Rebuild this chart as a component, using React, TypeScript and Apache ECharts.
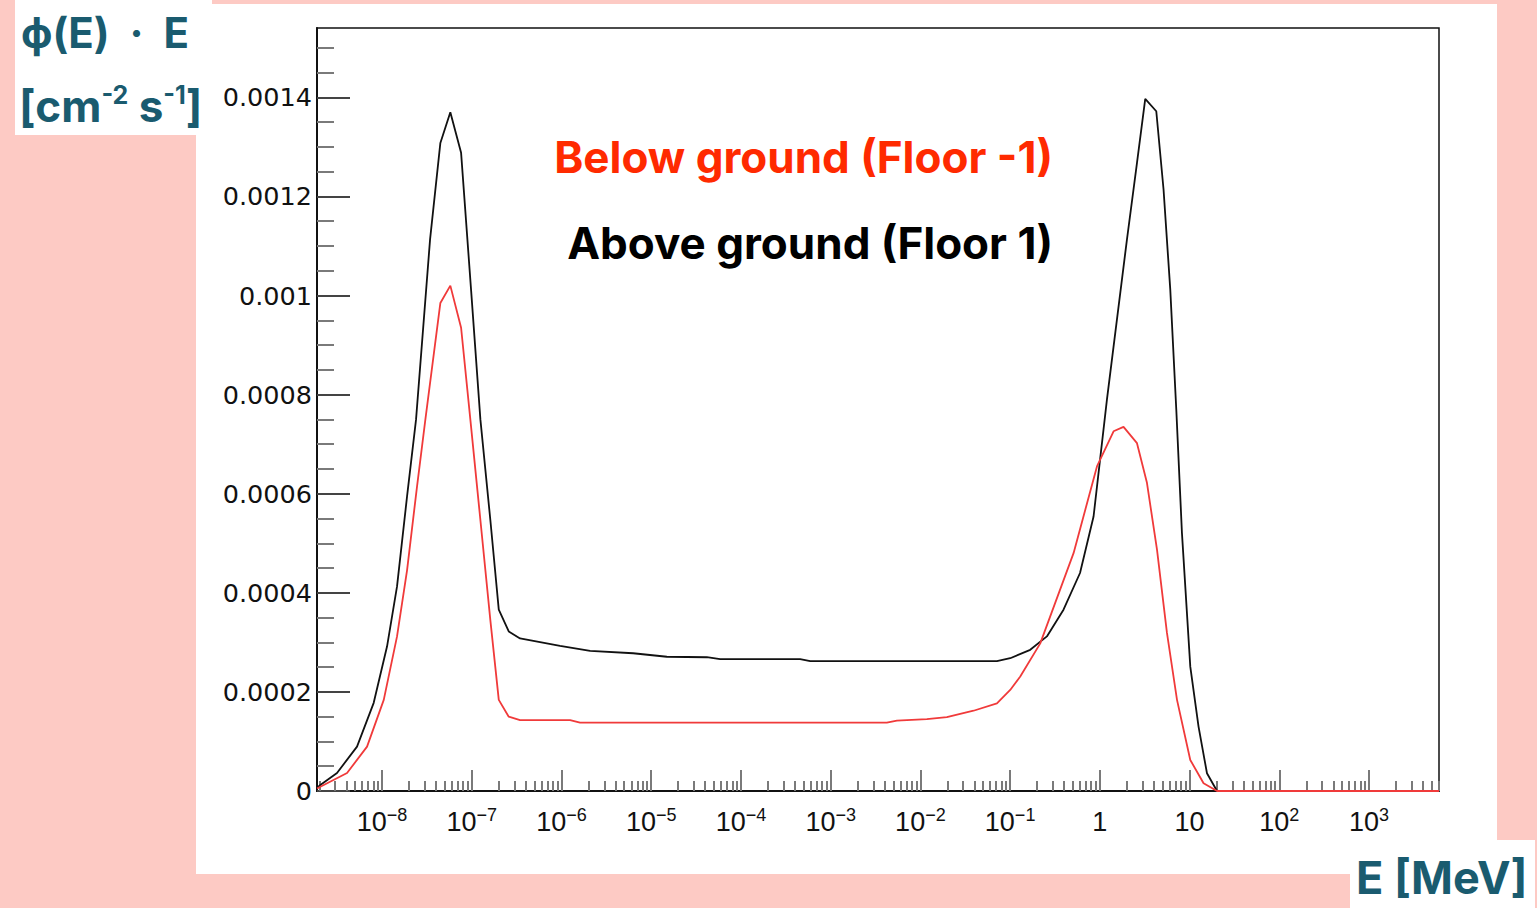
import React, { useEffect, useRef } from "react";
import * as echarts from "echarts";

// ---- axis ranges (log10 E in MeV on x) ----
const X_MIN = -8.725;
const X_MAX = 3.78;
const Y_MAX = 0.00154;

// ---- tick labels ----
const X_DECADES = [-8, -7, -6, -5, -4, -3, -2, -1, 0, 1, 2, 3];
const Y_TICKS = [0, 0.0002, 0.0004, 0.0006, 0.0008, 0.001, 0.0012, 0.0014];
const MINOR_MULTIPLIERS = [2, 3, 4, 5, 6, 7, 8, 9];
const MINOR_DECADES = [-9, -8, -7, -6, -5, -4, -3, -2, -1, 0, 1, 2, 3];

// ---- series: Above ground (Floor 1) ----
const ABOVE_LOG_E = [
  -8.725, -8.688, -8.502, -8.279, -8.093, -7.944, -7.833, -7.721, -7.621, -7.465,
  -7.35, -7.239, -7.119, -7.008, -6.904, -6.793, -6.699, -6.588, -6.462, -6.016,
  -5.681, -5.202, -4.826, -4.38, -4.232, -3.34, -3.228, -1.147, -0.999, -0.776,
  -0.59, -0.405, -0.221, -0.07, 0.079, 0.302, 0.414, 0.506, 0.629, 0.71,
  0.785, 0.852, 0.915, 1.008, 1.1, 1.194, 1.306, 3.78,
];
const ABOVE_FLUX = [
  0.000006, 0.0000121, 0.0000364, 0.0000895, 0.000178, 0.000292, 0.000413, 0.000595, 0.00075, 0.001113,
  0.001308, 0.00137, 0.001288, 0.001012, 0.00075, 0.000547, 0.000366, 0.000322, 0.000308, 0.000293,
  0.000283, 0.000278, 0.000271, 0.00027, 0.000266, 0.000266, 0.000262, 0.000262, 0.000268, 0.000285,
  0.000312, 0.000366, 0.00044, 0.000554, 0.00079, 0.001113, 0.001268, 0.001397, 0.001372, 0.001214,
  0.001012, 0.00077, 0.000521, 0.000251, 0.00013, 0.0000358, 0, 0,
];

// ---- series: Below ground (Floor -1) ----
const BELOW_LOG_E = [
  -8.725, -8.65, -8.39, -8.167, -7.981, -7.833, -7.721, -7.61, -7.517, -7.35,
  -7.239, -7.119, -7.016, -6.904, -6.793, -6.699, -6.588, -6.462, -5.904, -5.793,
  -2.374, -2.262, -1.928, -1.705, -1.408, -1.147, -0.999, -0.887, -0.664, -0.293,
  -0.032, 0.153, 0.264, 0.414, 0.525, 0.637, 0.748, 0.86, 1.008, 1.156,
  1.306, 3.78,
];
const BELOW_FLUX = [
  0.000005, 0.0000121, 0.0000364, 0.0000895, 0.000184, 0.000312, 0.000446, 0.000615, 0.00075, 0.000985,
  0.00102, 0.000935, 0.00075, 0.000547, 0.000345, 0.000184, 0.00015, 0.000143, 0.000143, 0.000138,
  0.000138, 0.000142, 0.000145, 0.000149, 0.000162, 0.000177, 0.000204, 0.000231, 0.000298, 0.00048,
  0.000655, 0.000726, 0.000735, 0.000702, 0.000622, 0.000487, 0.000319, 0.000184, 0.0000626, 0.0000156,
  0, 0,
];

const TEAL = "#1a5b6f";
const PINK = "#fdcac4";

function supLabel(v: number): string {
  if (v === 0) return "{b|1}";
  if (v === 1) return "{b|10}";
  const s = v < 0 ? "\u2212" + String(-v) : String(v);
  return "{b|10}{s|" + s + "}";
}

export default function App() {
  const ref = useRef<HTMLDivElement>(null);

  useEffect(() => {
    if (!ref.current) return;
    const chart = echarts.init(ref.current, null, { renderer: "svg" });

    const minor: number[] = [];
    MINOR_DECADES.forEach((n) => {
      MINOR_MULTIPLIERS.forEach((k) => {
        const v = n + Math.log10(k);
        if (v > X_MIN && v < X_MAX) minor.push(v);
      });
    });

    const above = ABOVE_LOG_E.map((x, i) => [x, ABOVE_FLUX[i]]);
    const below = BELOW_LOG_E.map((x, i) => [x, BELOW_FLUX[i]]);

    const tickFont = "Liberation Sans";

    chart.setOption({
      animation: false,
      backgroundColor: PINK,
      grid: {
        left: 317,
        top: 28,
        width: 1122,
        height: 763,
        show: true,
        borderColor: "#111",
        borderWidth: 1.5,
        backgroundColor: "transparent",
        containLabel: false,
      },
      xAxis: [
        {
          type: "value",
          min: X_MIN,
          max: X_MAX,
          position: "bottom",
          axisLine: { show: true, onZero: false, lineStyle: { color: "#111", width: 2 } },
          axisTick: {
            show: true,
            inside: true,
            length: 21,
            customValues: X_DECADES,
            lineStyle: { color: "#7a7a7a", width: 2 },
          },
          axisLabel: {
            show: true,
            customValues: X_DECADES,
            margin: 15,
            formatter: (v: number) => supLabel(Math.round(v)),
            rich: {
              b: { fontSize: 27, fontFamily: tickFont, color: "#111", lineHeight: 32 },
              s: { fontSize: 18, fontFamily: tickFont, color: "#111", lineHeight: 15, verticalAlign: "top" },
            },
          },
          splitLine: { show: false },
        },
        {
          type: "value",
          min: X_MIN,
          max: X_MAX,
          position: "bottom",
          offset: 0,
          axisLine: { show: false, onZero: false },
          axisTick: {
            show: true,
            inside: true,
            length: 10,
            customValues: minor,
            lineStyle: { color: "#7a7a7a", width: 2 },
          },
          axisLabel: { show: false },
          splitLine: { show: false },
        },
      ],
      yAxis: {
        type: "value",
        min: 0,
        max: Y_MAX,
        interval: 0.0002,
        axisLine: { show: true, onZero: false, lineStyle: { color: "#111", width: 2 } },
        axisTick: {
          show: true,
          inside: true,
          length: 33,
          customValues: Y_TICKS,
          lineStyle: { color: "#444", width: 2 },
        },
        minorTick: {
          show: true,
          splitNumber: 4,
          length: 17,
          lineStyle: { color: "#7a7a7a", width: 2 },
        },
        axisLabel: {
          show: true,
          customValues: Y_TICKS,
          margin: 5,
          fontSize: 25.5,
          fontFamily: "DejaVu Sans",
          color: "#111",
          formatter: (v: number) => String(v),
        },
        splitLine: { show: false },
      },
      series: [
        {
          name: "Above ground (Floor 1)",
          type: "line",
          xAxisIndex: 0,
          data: above,
          showSymbol: false,
          smooth: false,
          lineStyle: { color: "#111", width: 1.8 },
          z: 3,
        },
        {
          name: "Below ground (Floor -1)",
          type: "line",
          xAxisIndex: 0,
          data: below,
          showSymbol: false,
          smooth: false,
          lineStyle: { color: "#f03a3a", width: 1.8 },
          z: 4,
        },
      ],
      graphic: [
        { type: "rect", z: -10, shape: { x: 196, y: 4, width: 1301, height: 870 }, style: { fill: "#fff" } },
        { type: "rect", z: -10, shape: { x: 15, y: 0, width: 197, height: 135 }, style: { fill: "#fff" } },
        { type: "rect", z: -10, shape: { x: 1350, y: 840, width: 185, height: 68 }, style: { fill: "#fff" } },
        {
          type: "text",
          z: 10,
          x: 21,
          y: 32,
          style: {
            text: "\u03d5(E)  \u00b7  E",
            font: "bold 42px Inter",
            fill: TEAL,
            verticalAlign: "middle",
          },
        },
        {
          type: "text",
          z: 10,
          x: 19,
          y: 106,
          style: {
            text: "{b|[cm}{s|-2}{b| s}{s|-1}{b|]}",
            fill: TEAL,
            verticalAlign: "middle",
            rich: {
              b: { font: "bold 44px Inter", fill: TEAL, lineHeight: 48 },
              s: { font: "bold 25px Inter", fill: TEAL, lineHeight: 30, verticalAlign: "top" },
            },
          },
        },
        {
          type: "text",
          z: 10,
          x: 1356,
          y: 877,
          style: {
            text: "E [MeV]",
            font: "bold 45px Inter",
            fill: TEAL,
            verticalAlign: "middle",
          },
        },
        {
          type: "text",
          z: 10,
          x: 1053,
          y: 157,
          style: {
            text: "Below ground (Floor -1)",
            font: "bold 44px Inter",
            fill: "#ff2a00",
            align: "right",
            verticalAlign: "middle",
          },
        },
        {
          type: "text",
          z: 10,
          x: 1053,
          y: 243,
          style: {
            text: "Above ground (Floor 1)",
            font: "bold 44px Inter",
            fill: "#000",
            align: "right",
            verticalAlign: "middle",
          },
        },
      ],
    });

    return () => chart.dispose();
  }, []);

  return (
    <div
      ref={ref}
      style={{ position: "absolute", left: 0, top: 0, width: 1537, height: 908 }}
    />
  );
}
